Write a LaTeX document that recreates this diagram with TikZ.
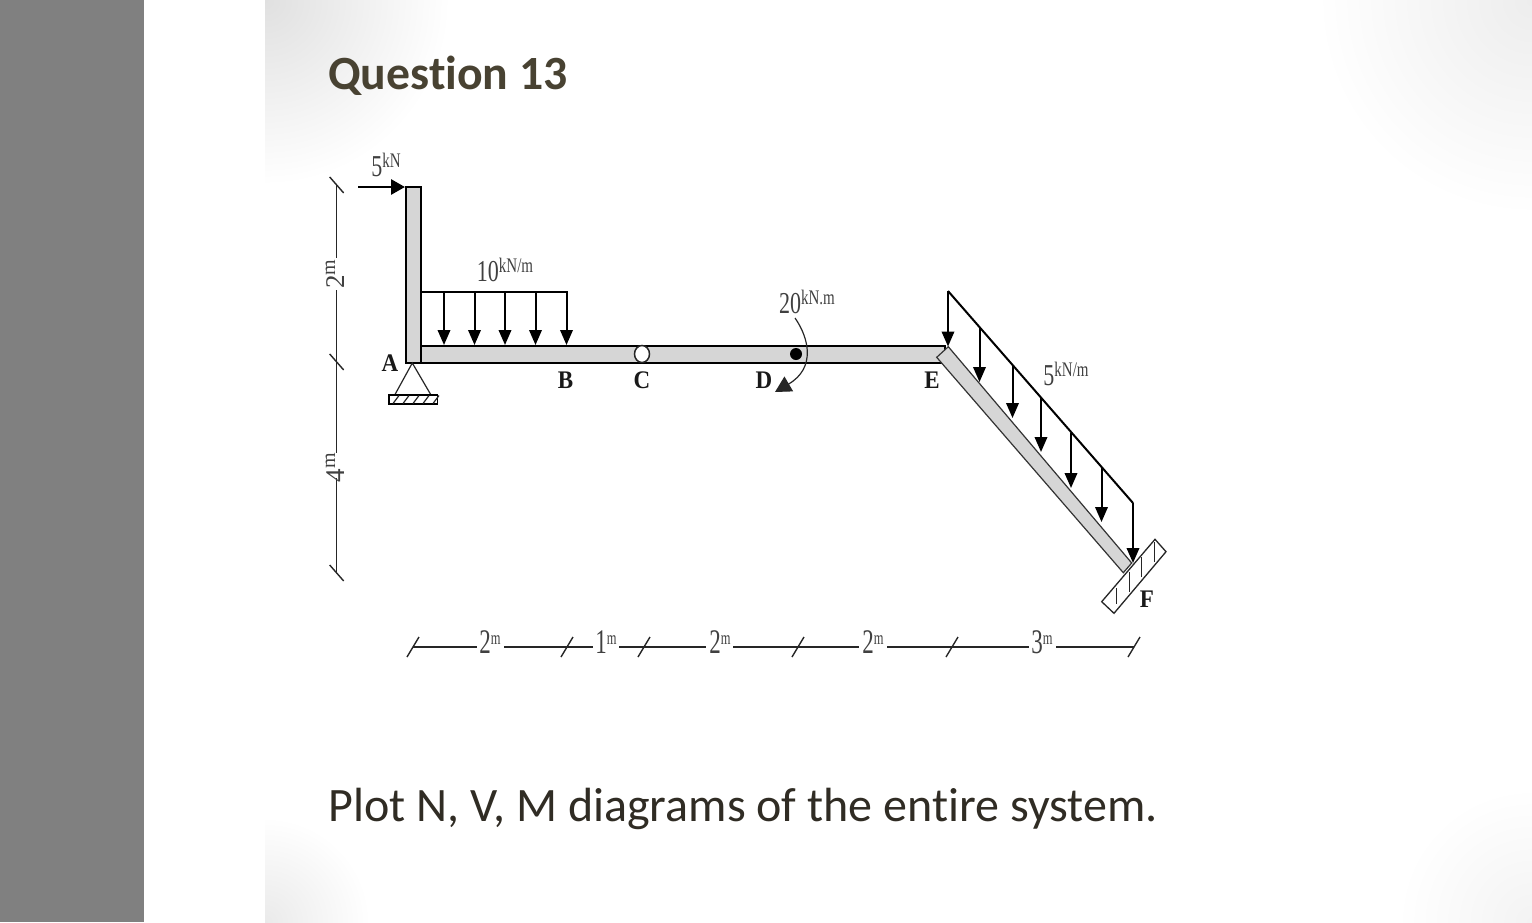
\documentclass[tikz,border=0pt]{standalone}
\usepackage{fontspec}
\setmainfont{Liberation Serif}
\newfontfamily\slidefont[Ligatures=NoCommon]{Carlito}
\usetikzlibrary{arrows.meta,shapes.geometric}
\definecolor{sidegrey}{RGB}{128,128,128}
\definecolor{cornerTL}{RGB}{224,224,224}
\definecolor{cornerTR}{RGB}{237,237,237}
\definecolor{cornerBL}{RGB}{234,234,234}
\definecolor{cornerBR}{RGB}{243,243,243}
\definecolor{beamfill}{RGB}{214,214,214}
\definecolor{titlecol}{RGB}{72,66,50}
\definecolor{bodycol}{RGB}{48,44,36}
\pgfdeclareradialshading{fadeTL}{\pgfpoint{0bp}{0bp}}{color(0bp)=(cornerTL); color(25bp)=(white); color(50bp)=(white)}
\pgfdeclareradialshading{fadeTR}{\pgfpoint{0bp}{0bp}}{color(0bp)=(cornerTR); color(25bp)=(white); color(50bp)=(white)}
\pgfdeclareradialshading{fadeBL}{\pgfpoint{0bp}{0bp}}{color(0bp)=(cornerBL); color(25bp)=(white); color(50bp)=(white)}
\pgfdeclareradialshading{fadeBR}{\pgfpoint{0bp}{0bp}}{color(0bp)=(cornerBR); color(25bp)=(white); color(50bp)=(white)}
\newcommand{\lab}[2]{\scalebox{1}[1.38]{\fontsize{22}{22}\selectfont #1\raisebox{6pt}{\fontsize{15}{15}\selectfont #2}}}
\newcommand{\dimlab}[2]{\scalebox{1}[1.5]{\fontsize{23}{23}\selectfont #1\raisebox{6pt}{\fontsize{12.5}{13}\selectfont #2}}}
\newcommand{\vdimlab}[2]{\fontsize{27}{27}\selectfont #1\raisebox{9pt}{\fontsize{20}{20}\selectfont #2}}
\newcommand{\ptlab}[1]{\scalebox{1}[1.1]{\fontsize{23}{23}\selectfont\bfseries #1}}
\tikzset{
 x=1pt,y=-1pt,
 member/.style={draw=black,fill=beamfill,line width=1.8pt},
 slantmember/.style={draw=black!80,fill=beamfill,line width=1.2pt},
 load/.style={draw=black,line width=2pt,-{Triangle[length=15pt,width=12.5pt]}},
 loadline/.style={draw=black,line width=2pt},
 thin line/.style={draw=black!85,line width=1.2pt},
 dimline/.style={draw=black!85,line width=1.4pt},
 txt/.style={inner sep=0pt,outer sep=0pt,text=black!75},
 pt/.style={inner sep=0pt,outer sep=0pt,text=black!90},
}
\begin{document}
\begin{tikzpicture}
\useasboundingbox (0,0) rectangle (1532,922);
% background
\fill[white] (0,0) rectangle (1532,922);
\begin{scope}
\clip (265,0) rectangle (1532,922);
\shade[shading=fadeTL] (265,0) circle (185pt);
\shade[shading=fadeTR] (1532,0) circle (215pt);
\shade[shading=fadeBL] (265,922) circle (105pt);
\shade[shading=fadeBR] (1532,922) circle (135pt);
\end{scope}
\fill[sidegrey] (0,0) rectangle (144,922);
% titles
\node[anchor=base west,inner sep=0pt,text=titlecol] (title) at (328,89) {\slidefont\fontsize{47.7}{48}\selectfont\bfseries Question 13};
\node[anchor=base west,inner sep=0pt,text=bodycol] (body) at (328,821) {\slidefont\fontsize{48}{48}\selectfont Plot N, V, M diagrams of the entire system.};
% members
\draw[member] (421,346) rectangle (945,363);
\draw[member] (405.7,187.3) rectangle (421,363);
\draw[slantmember] (948.3,346.7) -- (936.7,357.3) -- (1123.3,572.7) -- (1131.7,563) -- cycle;
% hinge C and point D
\node[ellipse,draw=black!85,fill=white,line width=1.5pt,minimum width=15pt,minimum height=17pt,inner sep=0pt] (C) at (642,354) {};
\node[circle,fill=black,minimum size=12pt,inner sep=0pt] (D) at (796,354) {};
% 5 kN force
\coordinate (f0) at (358,187); \coordinate (f1) at (405,187);
\draw[draw=black,line width=2.8pt,-{Triangle[length=14pt,width=15pt]}] (f0) -- (f1);
% UDL
\coordinate (u0) at (421,291.7); \coordinate (u1) at (567.5,291.7);
\draw[loadline] (u0) -- (u1);
\foreach \x in {444,474.5,505,535.5,566.5}{\draw[load] (\x,291.7) -- (\x,345);}
% support A
\draw[thin line] (395,394.5) -- (412.3,363) -- (430.7,394.5);
\draw[draw=black,line width=1.4pt] (389,395) rectangle (437.7,404);
\foreach \x in {393,403,413,423,433}{\draw[thin line] (\x,403.5) -- (\x+6,395.5);}
% moment
\coordinate (m0) at (795,318);
\coordinate (m1) at (775,392);
\draw[draw=black!85,line width=1.2pt,-{Triangle[length=16pt,width=17pt]}] (m0) .. controls (809,338) and (816,368) .. (m1);
% inclined load
\draw[loadline] (948,291) -- (1133,503);
\draw[load] (948,291) -- (948,346.5);
\draw[load] (979.5,327.5) -- (979.5,382);
\draw[load] (1012.5,365) -- (1012.5,418);
\draw[load] (1041,398) -- (1041,452);
\draw[load] (1071,433) -- (1071,488);
\draw[load] (1101.5,468) -- (1101.5,522);
\draw[load] (1133,503) -- (1133,563);
% wall F
\draw[draw=black!85,line width=1.3pt] (1155,539.3) -- (1166,551.7) -- (1114,613.3) -- (1101.7,601.7) -- cycle;
\draw[thin line] (1116.7,588) -- (1116.7,604);
\draw[thin line] (1129.3,572) -- (1129.3,592);
\draw[thin line] (1141.7,557) -- (1141.7,577);
\draw[thin line] (1154.3,542) -- (1154.3,562);
% vertical dimension
\coordinate (d1) at (336.7,185); \coordinate (d2) at (336.7,362); \coordinate (d3) at (336.7,573);
\draw[dimline] (d1) -- (336.7,258) (336.7,290) -- (d2) -- (336.7,453) (336.7,478) -- (d3);
\foreach \c in {d1,d2,d3}{\draw[dimline] ([shift={(-7,-8)}]\c) -- ([shift={(7,8)}]\c);}
\node[txt,rotate=90,anchor=base] (l2) at (344,274) {\vdimlab{2}{m}};
\node[txt,rotate=90,anchor=base] (l4) at (344,467.5) {\vdimlab{4}{m}};
% horizontal dimension
\coordinate (h0) at (413,647); \coordinate (h1) at (567,647); \coordinate (h2) at (644,647);
\coordinate (h3) at (798,647); \coordinate (h4) at (952,647); \coordinate (h5) at (1134,647);
\draw[dimline] (h0) -- (477,647) (504,647) -- (h1) -- (593,647) (619,647) -- (h2) -- (706,647)
 (733,647) -- (h3) -- (859,647) (887,647) -- (h4) -- (1029,647) (1056,647) -- (h5);
\foreach \c in {h0,h1,h2,h3,h4,h5}{\draw[dimline] ([shift={(-6,10)}]\c) -- ([shift={(6,-10)}]\c);}
\node[txt] (hl1) at (490,642) {\dimlab{2}{m}};
\node[txt] (hl2) at (606,642) {\dimlab{1}{m}};
\node[txt] (hl3) at (720,642) {\dimlab{2}{m}};
\node[txt] (hl4) at (873,642) {\dimlab{2}{m}};
\node[txt] (hl5) at (1042,642) {\dimlab{3}{m}};
% load labels
\node[txt] (p5) at (386,165) {\lab{5}{kN}};
\node[txt] (q10) at (505,270) {\lab{10}{kN/m}};
\node[txt] (m20) at (807,302) {\lab{20}{kN.m}};
\node[txt] (q5) at (1066,374) {\lab{5}{kN/m}};
% points
\node[pt] (la) at (390,363) {\ptlab{A}};
\node[pt] (lb) at (565.5,380) {\ptlab{B}};
\node[pt] (lc) at (642,380) {\ptlab{C}};
\node[pt] (ld) at (764,380) {\ptlab{D}};
\node[pt] (le) at (932,380) {\ptlab{E}};
\node[pt] (lf) at (1147,599) {\ptlab{F}};
\end{tikzpicture}
\end{document}
